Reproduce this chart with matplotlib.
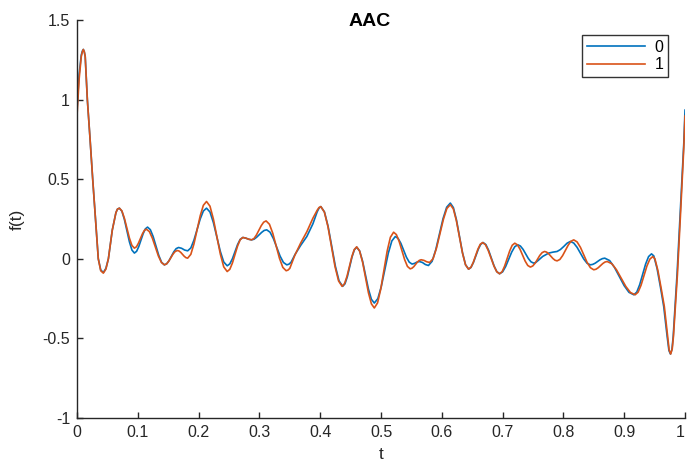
import matplotlib
matplotlib.use("Agg")
import matplotlib.pyplot as plt

# =========================
# DATA ((t, f(t)))
# =========================
pts_blue = [
    (0, 0.94), (0.0035, 1.16), (0.007, 1.28), (0.0088, 1.305), (0.0104, 1.315),
    (0.012, 1.30), (0.0135, 1.27), (0.017, 1.0), (0.0215, 0.75), (0.0258, 0.5),
    (0.0305, 0.24), (0.035, 0.0), (0.039, -0.07), (0.0433, -0.086), (0.0475, -0.06),
    (0.0516, 0.0), (0.058, 0.18), (0.064, 0.29), (0.0665, 0.312), (0.0697, 0.318),
    (0.0738, 0.299), (0.0779, 0.2475), (0.0862, 0.1065), (0.0903, 0.055), (0.0944, 0.036),
    (0.098, 0.047), (0.1016, 0.077), (0.1088, 0.158), (0.1124, 0.188), (0.116, 0.199),
    (0.1206, 0.183), (0.1252, 0.140), (0.1345, 0.021), (0.1391, -0.022), (0.1437, -0.038),
    (0.1476, -0.031), (0.1515, -0.011), (0.1592, 0.044), (0.1631, 0.064), (0.167, 0.071),
    (0.172, 0.066), (0.177, 0.055), (0.182, 0.050),
    (0.1872, 0.068), (0.1923, 0.117), (0.2027, 0.251), (0.2078, 0.300), (0.213, 0.318),
    (0.2187, 0.294), (0.2243, 0.2275), (0.2357, 0.0465), (0.2413, -0.020), (0.247, -0.044),
    (0.2513, -0.032), (0.2556, 0.0005), (0.2641, 0.0895), (0.2684, 0.122), (0.2727, 0.134),
    (0.2775, 0.130), (0.2822, 0.123), (0.287, 0.119),
    (0.2912, 0.123), (0.2953, 0.135), (0.3037, 0.166), (0.3078, 0.178), (0.312, 0.182),
    (0.3175, 0.167), (0.323, 0.127), (0.334, 0.017), (0.3395, -0.023), (0.345, -0.038),
    (0.3485, -0.034), (0.352, -0.022), (0.359, 0.03), (0.368, 0.085), (0.378, 0.14),
    (0.388, 0.22), (0.395, 0.295), (0.398, 0.318), (0.401, 0.328),
    (0.407, 0.294), (0.413, 0.203), (0.425, -0.048), (0.431, -0.139), (0.437, -0.173),
    (0.4408, -0.1565), (0.4447, -0.1115), (0.4523, 0.0115), (0.4562, 0.0565), (0.460, 0.073),
    (0.4648, 0.0495), (0.4697, -0.015), (0.4793, -0.190), (0.4842, -0.2545), (0.489, -0.278),
    (0.4948, -0.250), (0.5005, -0.1735), (0.512, 0.0355), (0.5178, 0.112), (0.5235, 0.14),
    (0.5281, 0.128), (0.5327, 0.097), (0.5418, 0.010), (0.5464, -0.021), (0.551, -0.033),
    (0.555, -0.029), (0.559, -0.021), (0.563, -0.017), (0.568, -0.023), (0.573, -0.036),
    (0.578, -0.042),
    (0.584, -0.016), (0.590, 0.056), (0.602, 0.252), (0.608, 0.324), (0.614, 0.35),
    (0.619, 0.322), (0.624, 0.246), (0.634, 0.039), (0.639, -0.037), (0.644, -0.065),
    (0.648, -0.054), (0.652, -0.023), (0.660, 0.060), (0.664, 0.091), (0.668, 0.102),
    (0.6725, 0.089), (0.677, 0.053), (0.686, -0.045), (0.6905, -0.081), (0.695, -0.094),
    (0.700, -0.082), (0.705, -0.0485), (0.715, 0.0425), (0.720, 0.076), (0.725, 0.088),
    (0.7293, 0.080), (0.7337, 0.059), (0.7423, 0.002), (0.7467, -0.019), (0.751, -0.027),
    (0.7545, -0.023), (0.758, -0.012), (0.766, 0.015), (0.776, 0.036), (0.783, 0.042),
    (0.7896, 0.046), (0.795, 0.058), (0.8005, 0.077), (0.806, 0.098), (0.8115, 0.109),
    (0.817, 0.099), (0.8225, 0.072), (0.8334, -0.001), (0.8389, -0.028), (0.8444, -0.038),
    (0.8483, -0.035), (0.8523, -0.0275), (0.8601, -0.0065), (0.8641, 0.001), (0.868, 0.004),
    (0.876, -0.011), (0.8839, -0.0535), (0.8999, -0.1685), (0.9078, -0.2106), (0.9158, -0.226),
    (0.9207, -0.209), (0.9255, -0.162), (0.9352, -0.033), (0.9401, 0.014), (0.9449, 0.031),
    (0.9487, 0.018), (0.954, -0.06), (0.9597, -0.18), (0.965, -0.30), (0.9706, -0.487),
    (0.9735, -0.575), (0.976, -0.598), (0.9785, -0.57), (0.9806, -0.487), (0.987, -0.09),
    (0.9926, 0.328), (0.998, 0.725), (1.0, 0.934),
]

pts_orange = [
    (0, 0.90), (0.0035, 1.13), (0.007, 1.27), (0.0088, 1.30), (0.0104, 1.315),
    (0.012, 1.30), (0.0135, 1.27), (0.017, 1.0), (0.0215, 0.75), (0.0258, 0.5),
    (0.0305, 0.24), (0.035, 0.0), (0.039, -0.075), (0.0433, -0.09), (0.0475, -0.065),
    (0.0516, 0.0), (0.058, 0.18), (0.064, 0.29), (0.0665, 0.312), (0.0697, 0.318),
    (0.0738, 0.301), (0.0779, 0.255), (0.0862, 0.130), (0.0903, 0.084), (0.0944, 0.067),
    (0.0977, 0.075), (0.1009, 0.097), (0.1075, 0.156), (0.1107, 0.178), (0.114, 0.186),
    (0.119, 0.171), (0.1239, 0.130), (0.1338, 0.018), (0.1388, -0.023), (0.1437, -0.038),
    (0.1473, -0.032), (0.1508, -0.0155), (0.1579, 0.0295), (0.1615, 0.046), (0.165, 0.052),
    (0.1678, 0.049), (0.1707, 0.040), (0.1763, 0.016), (0.1792, 0.007), (0.182, 0.004),
    (0.1872, 0.028), (0.1923, 0.093), (0.2027, 0.271), (0.2078, 0.336), (0.213, 0.36),
    (0.2187, 0.3305), (0.2243, 0.25), (0.2357, 0.03), (0.2413, -0.0505), (0.247, -0.08),
    (0.2513, -0.066), (0.2556, -0.0265), (0.2641, 0.0805), (0.2684, 0.120), (0.2727, 0.134),
    (0.2775, 0.130), (0.2822, 0.123), (0.287, 0.119),
    (0.291, 0.127), (0.295, 0.149), (0.303, 0.208), (0.307, 0.230), (0.311, 0.238),
    (0.3165, 0.217), (0.322, 0.160), (0.333, 0.003), (0.3385, -0.054), (0.344, -0.075),
    (0.347, -0.071), (0.350, -0.06), (0.358, 0.02), (0.368, 0.10), (0.378, 0.17),
    (0.388, 0.255), (0.395, 0.305), (0.398, 0.322), (0.401, 0.328),
    (0.4068, 0.294), (0.4127, 0.203), (0.4243, -0.048), (0.4302, -0.139), (0.436, -0.173),
    (0.440, -0.156), (0.444, -0.111), (0.452, 0.013), (0.456, 0.058), (0.460, 0.075),
    (0.4648, 0.049), (0.4697, -0.021), (0.4793, -0.213), (0.4842, -0.283), (0.489, -0.309),
    (0.4943, -0.277), (0.4996, -0.19), (0.5101, 0.048), (0.5154, 0.135), (0.5207, 0.167),
    (0.5253, 0.152), (0.5298, 0.1095), (0.5389, -0.0055), (0.5435, -0.048), (0.548, -0.063),
    (0.551, -0.059), (0.554, -0.049), (0.560, -0.020), (0.563, -0.010), (0.566, -0.006),
    (0.5707, -0.010), (0.5753, -0.019), (0.58, -0.023),
    (0.5857, 0.001), (0.5913, 0.068), (0.6027, 0.249), (0.6083, 0.316), (0.614, 0.34),
    (0.619, 0.313), (0.624, 0.239), (0.634, 0.036), (0.639, -0.038), (0.644, -0.065),
    (0.6478, -0.054), (0.6517, -0.023), (0.6593, 0.060), (0.6632, 0.091), (0.667, 0.102),
    (0.6717, 0.089), (0.6763, 0.053), (0.6857, -0.045), (0.6903, -0.081), (0.695, -0.094),
    (0.6992, -0.081), (0.7033, -0.046), (0.7117, 0.050), (0.7158, 0.085), (0.720, 0.098),
    (0.7243, 0.088), (0.7286, 0.0605), (0.7371, -0.0145), (0.7414, -0.042), (0.7457, -0.052),
    (0.7496, -0.045), (0.7535, -0.0275), (0.7612, 0.0215), (0.7651, 0.039), (0.769, 0.046),
    (0.7724, 0.042), (0.7759, 0.031), (0.7827, 0.002), (0.7862, -0.009), (0.7896, -0.013),
    (0.7942, -0.004), (0.7987, 0.020), (0.8079, 0.086), (0.8124, 0.110), (0.817, 0.119),
    (0.8225, 0.106), (0.828, 0.072), (0.8389, -0.022), (0.8444, -0.056), (0.8499, -0.069),
    (0.8536, -0.0655), (0.8573, -0.056), (0.8647, -0.030), (0.8683, -0.0205), (0.872, -0.017),
    (0.8797, -0.031), (0.8873, -0.069), (0.9027, -0.174), (0.9103, -0.212), (0.918, -0.226),
    (0.9228, -0.210), (0.9277, -0.166), (0.9373, -0.046), (0.9422, -0.002), (0.947, 0.014),
    (0.9505, 0.0), (0.9555, -0.075), (0.961, -0.19), (0.966, -0.30), (0.9715, -0.49),
    (0.974, -0.575), (0.9765, -0.598), (0.979, -0.565), (0.981, -0.487), (0.9875, -0.10),
    (0.993, 0.31), (0.998, 0.70), (1.0, 0.897),
]

series_labels = ["0", "1"]
x_ticks = [0, 0.1, 0.2, 0.3, 0.4, 0.5, 0.6, 0.7, 0.8, 0.9, 1]
x_tick_labels = ["0", "0.1", "0.2", "0.3", "0.4", "0.5", "0.6", "0.7", "0.8", "0.9", "1"]
y_ticks = [-1, -0.5, 0, 0.5, 1, 1.5]
y_tick_labels = ["-1", "-0.5", "0", "0.5", "1", "1.5"]

t_blue, y_blue = zip(*pts_blue)
t_orange, y_orange = zip(*pts_orange)

# =========================
# PLOT
# =========================
plt.rcParams["font.family"] = ["Liberation Sans", "DejaVu Sans"]

fig = plt.figure(figsize=(6.87, 4.63), dpi=100)
ax = fig.add_axes([0.1121, 0.0972, 0.8850, 0.8596])

ax.plot(t_blue, y_blue, color="#0072BD", lw=1.2, label=series_labels[0],
        solid_joinstyle="round")
ax.plot(t_orange, y_orange, color="#D95319", lw=1.2, label=series_labels[1],
        solid_joinstyle="round")

ax.set_xlim(0, 1)
ax.set_ylim(-1, 1.5)
ax.set_xticks(x_ticks)
ax.set_xticklabels(x_tick_labels)
ax.set_yticks(y_ticks)
ax.set_yticklabels(y_tick_labels)
# last x label sits right at the figure edge
ax.get_xticklabels()[-1].set_horizontalalignment("right")

for side in ["top", "right"]:
    ax.spines[side].set_visible(False)
for side in ["left", "bottom"]:
    ax.spines[side].set_linewidth(1.0)
    ax.spines[side].set_color("#262626")

ax.tick_params(direction="in", length=4.5, width=1.0, colors="#262626",
               labelsize=11.5, labelcolor="#262626", pad=5)

ax.set_xlabel("t", fontsize=12.5, color="#262626", labelpad=5)
ax.set_ylabel("f(t)", fontsize=12.5, color="#262626", labelpad=13)
fig.text(370 / 687, 1 - 22 / 463, "AAC", fontsize=14, fontweight="bold",
         ha="center", va="center", color="black")

leg = ax.legend(loc="upper right", bbox_to_anchor=(0.972, 0.962), fontsize=11.5,
                frameon=True, fancybox=False, handlelength=3.6, borderpad=0.3,
                labelspacing=0.15, handletextpad=0.6, borderaxespad=0)
leg.get_frame().set_edgecolor("black")
leg.get_frame().set_linewidth(1.0)

fig.savefig("out.png", dpi=100)
